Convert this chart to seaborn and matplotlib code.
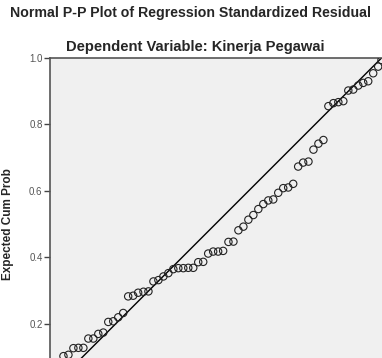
import numpy as np
import pandas as pd
import matplotlib
matplotlib.use("Agg")
import matplotlib.pyplot as plt
import seaborn as sns

TITLE = "Normal P-P Plot of Regression Standardized Residual"
SUBTITLE = "Dependent Variable: Kinerja Pegawai"

obs_cum = [0.015, 0.027,
           0.042, 0.057, 0.072, 0.087, 0.102, 0.117, 0.132, 0.147, 0.162, 0.177,
           0.192, 0.207, 0.222, 0.237, 0.252, 0.267, 0.283, 0.298, 0.313, 0.328,
           0.343, 0.358, 0.373, 0.388, 0.403, 0.418, 0.433, 0.448, 0.463, 0.478,
           0.493, 0.508, 0.523, 0.539, 0.554, 0.569, 0.584, 0.599, 0.614, 0.629,
           0.644, 0.659, 0.674, 0.689, 0.704, 0.719, 0.734, 0.749, 0.764, 0.780,
           0.795, 0.810, 0.825, 0.840, 0.855, 0.870, 0.885, 0.900, 0.915, 0.930,
           0.945, 0.960, 0.975, 0.990, 1.000]
exp_cum = [0.055, 0.080,
           0.102, 0.106, 0.126, 0.127, 0.127, 0.155, 0.155, 0.169, 0.173, 0.205,
           0.207, 0.219, 0.232, 0.282, 0.284, 0.293, 0.296, 0.297, 0.327, 0.331,
           0.342, 0.352, 0.364, 0.367, 0.367, 0.368, 0.368, 0.385, 0.386, 0.411,
           0.417, 0.417, 0.419, 0.446, 0.447, 0.481, 0.492, 0.513, 0.527, 0.545,
           0.560, 0.571, 0.574, 0.594, 0.608, 0.610, 0.621, 0.673, 0.685, 0.688,
           0.724, 0.742, 0.753, 0.855, 0.864, 0.867, 0.870, 0.902, 0.905, 0.917,
           0.925, 0.930, 0.954, 0.974, 0.994]
ref_line = [0.0, 1.0]
y_ticks = [0.2, 0.4, 0.6, 0.8, 1.0]   # 0.0 sits below the cropped edge

df = pd.DataFrame({"obs": obs_cum, "exp": exp_cum})

sns.set_style("white")
plt.rcParams["font.family"] = ["Liberation Sans", "DejaVu Sans"]

fig = plt.figure(figsize=(3.82, 3.58), dpi=100)
# plot area runs past the bottom/right of the cropped picture
ax = fig.add_axes([49.5 / 382, 1 - 390 / 358, 332 / 382, 332 / 358])
ax.set_facecolor("#f0f0f0")

sns.lineplot(x=ref_line, y=ref_line, color="black", linewidth=1.0, ax=ax)
sns.scatterplot(data=df, x="obs", y="exp", s=28, facecolor="none",
                edgecolor="#222222", linewidth=0.8, ax=ax, zorder=3)

ax.set_xlim(0, 1)
ax.set_ylim(0, 1)
ax.set_yticks(y_ticks)
ax.set_yticklabels([f"{v:.1f}" for v in y_ticks])
ax.set_xticks([])
ax.tick_params(axis="y", direction="out", length=4, width=1,
               color="#444444", labelsize=7, labelcolor="#555555", pad=1, left=True)
for side in ["left", "top", "bottom"]:
    ax.spines[side].set_color("#555555")
    ax.spines[side].set_linewidth(1.2)
ax.spines["right"].set_visible(False)

ax.set_xlabel("")
ax.set_ylabel("Expected Cum Prob", fontsize=8.5, fontweight="bold")
ax.yaxis.set_label_coords(-0.107, 0.5)

fig.text(0.5, 1 - 13 / 358, TITLE, ha="center", va="center",
         fontsize=10.2, fontweight="bold")
fig.text(0.51, 1 - 47 / 358, SUBTITLE, ha="center", va="center",
         fontsize=10.6, fontweight="bold")

fig.savefig("out.png", dpi=100)
